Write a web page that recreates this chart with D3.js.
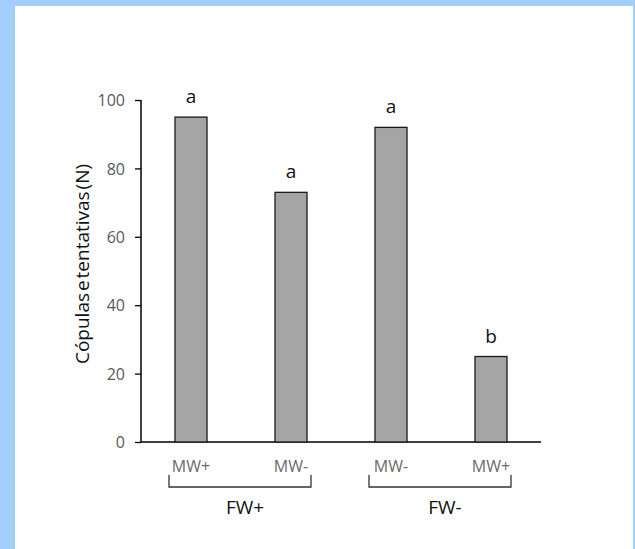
<!DOCTYPE html>
<html lang="pt">
<head>
    <meta charset="UTF-8">
    <title>Cópulas e tentativas</title>
    <script src="https://d3js.org/d3.v7.min.js"></script>
    <style>
        body { margin: 0; background: #a3cffd; }
        text { font-family: "Open Sans", "Liberation Sans", sans-serif; }
    </style>
</head>
<body>
    <div id="chart"></div>

    <script>
        // data
        const groups = ["FW+", "FW-"];
        const males = ["MW+", "MW-", "MW-", "MW+"];
        const counts = [95, 73, 92, 25];
        const letters = ["a", "a", "a", "b"];
        const groupOf = [0, 0, 1, 1];
        const yTicks = [0, 20, 40, 60, 80, 100];

        const W = 635, H = 549;
        const margin = { top: 100, left: 141, right: 94, bottom: 107 };

        const svg = d3.select("#chart").append("svg")
            .attr("width", W).attr("height", H);

        // white panel inside the blue frame
        svg.append("rect")
            .attr("x", 15).attr("y", 6)
            .attr("width", 618).attr("height", H - 6)
            .attr("fill", "#ffffff");

        const idx = counts.map((d, i) => i);
        const x = d3.scaleBand().domain(idx)
            .range([margin.left, W - margin.right])
            .paddingInner(0.68).paddingOuter(0.34);
        const y = d3.scaleLinear().domain([0, 100])
            .range([H - margin.bottom, margin.top]);

        // y axis
        const yAxis = svg.append("g")
            .attr("transform", `translate(${margin.left},0)`)
            .call(d3.axisLeft(y).tickValues(yTicks).tickSize(6).tickPadding(10));
        yAxis.attr("font-size", null).attr("font-family", null);
        yAxis.select(".domain").attr("stroke", "#000").attr("stroke-width", 1.5)
            .attr("d", `M0,${y(100)}V${y(0)}`);
        yAxis.selectAll(".tick line").attr("stroke", "#000").attr("stroke-width", 1.3);
        yAxis.selectAll(".tick text").attr("fill", "#595959")
            .style("font-size", "16px").attr("dy", "0.35em");

        // x baseline
        svg.append("line")
            .attr("x1", margin.left).attr("x2", W - margin.right)
            .attr("y1", y(0)).attr("y2", y(0))
            .attr("stroke", "#000").attr("stroke-width", 1.5);

        // bars
        svg.selectAll("rect.bar")
            .data(counts)
            .join("rect")
            .attr("class", "bar")
            .attr("x", (d, i) => x(i))
            .attr("y", d => y(d))
            .attr("width", x.bandwidth())
            .attr("height", d => y(0) - y(d))
            .attr("fill", "#a5a5a5")
            .attr("stroke", "#1a1a1a")
            .attr("stroke-width", 1.3);

        // significance letters
        svg.selectAll("text.sig")
            .data(counts)
            .join("text")
            .attr("class", "sig")
            .attr("x", (d, i) => x(i) + x.bandwidth() / 2)
            .attr("y", d => y(d) - 14)
            .attr("text-anchor", "middle")
            .attr("fill", "#111")
            .style("font-size", "19px")
            .text((d, i) => letters[i]);

        // male labels
        svg.selectAll("text.male")
            .data(males)
            .join("text")
            .attr("class", "male")
            .attr("x", (d, i) => x(i) + x.bandwidth() / 2)
            .attr("y", y(0) + 30)
            .attr("text-anchor", "middle")
            .attr("fill", "#6b6b6b")
            .style("font-size", "16px")
            .text(d => d);

        // group brackets
        groups.forEach((g, gi) => {
            const members = idx.filter(i => groupOf[i] === gi);
            const x0 = x(members[0]) + x.bandwidth() / 2 - 22;
            const x1 = x(members[members.length - 1]) + x.bandwidth() / 2 + 20;
            const yb = y(0) + 33;
            svg.append("path")
                .attr("d", `M${x0},${yb}V${yb + 12}H${x1}V${yb}`)
                .attr("fill", "none")
                .attr("stroke", "#333")
                .attr("stroke-width", 1.3);
            svg.append("text")
                .attr("x", (x0 + x1) / 2 + 5)
                .attr("y", yb + 39)
                .attr("text-anchor", "middle")
                .attr("fill", "#111")
                .style("font-size", "19px")
                .text(g);
        });

        // y title
        svg.append("text")
            .attr("transform", `translate(89,${(y(0) + y(100)) / 2 - 7}) rotate(-90)`)
            .attr("text-anchor", "middle")
            .attr("fill", "#111")
            .style("font-size", "19px")
            .style("word-spacing", "-3px")
            .text("Cópulas e tentativas (N)");
    </script>
</body>
</html>
